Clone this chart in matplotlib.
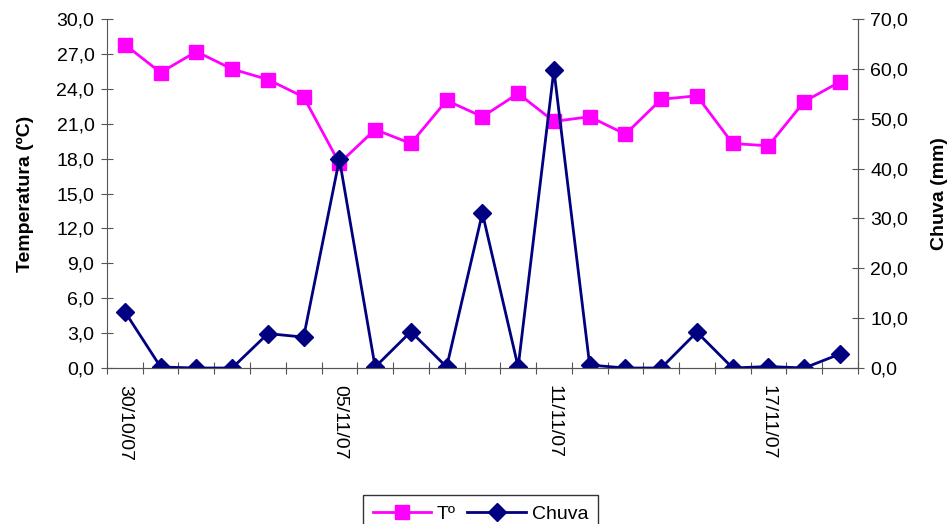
import matplotlib
matplotlib.use("Agg")
import matplotlib.pyplot as plt
from matplotlib.ticker import FuncFormatter

plt.rcParams['font.family'] = ['Liberation Sans', 'DejaVu Sans']

# daily series, 30/10/07 .. 19/11/07
dates = ["30/10/07", "31/10/07", "01/11/07", "02/11/07", "03/11/07", "04/11/07",
         "05/11/07", "06/11/07", "07/11/07", "08/11/07", "09/11/07", "10/11/07",
         "11/11/07", "12/11/07", "13/11/07", "14/11/07", "15/11/07", "16/11/07",
         "17/11/07", "18/11/07", "19/11/07"]
temp = [27.8, 25.4, 27.2, 25.7, 24.8, 23.3, 17.6, 20.5, 19.3, 23.0, 21.6,
        23.6, 21.2, 21.6, 20.1, 23.1, 23.4, 19.3, 19.1, 22.9, 24.6]
chuva = [11.3, 0.2, 0.0, 0.0, 6.9, 6.2, 41.9, 0.2, 7.3, 0.2, 31.1,
         0.2, 59.8, 0.6, 0.0, 0.0, 7.2, 0.0, 0.3, 0.0, 2.8]

x = list(range(len(dates)))
comma = FuncFormatter(lambda v, p: f"{v:.1f}".replace(".", ","))
FS = 14

fig = plt.figure(figsize=(9.51, 5.24), dpi=100)
ax = fig.add_axes([0.1125, 0.2977, 0.7895, 0.666])
ax2 = ax.twinx()

l1, = ax.plot(x, temp, color="#FF00FF", lw=2, marker="s", ms=10, label="Tº")
l2, = ax2.plot(x, chuva, color="#000080", lw=2, marker="D", ms=9, label="Chuva")

ax.set_xlim(-0.5, len(dates) - 0.5)
ax.set_ylim(0, 30)
ax.set_yticks(range(0, 31, 3))
ax.yaxis.set_major_formatter(comma)
ax2.set_ylim(0, 70)
ax2.set_yticks(range(0, 71, 10))
ax2.yaxis.set_major_formatter(comma)

# category boundaries as ticks, labels every 6 days
ax.set_xticks([i - 0.5 for i in x] + [len(dates) - 0.5])
ax.set_xticklabels([])
ax.set_xticks(x[::6], minor=True)
ax.set_xticklabels(dates[::6], minor=True, rotation=270, fontsize=FS)
ax.tick_params(axis="x", which="minor", length=0, pad=12)
ax.tick_params(axis="x", which="major", direction="inout", length=8, color="#555555")

for a in (ax, ax2):
    a.spines["top"].set_visible(False)
    for s in ("left", "right", "bottom"):
        a.spines[s].set_color("#555555")
    a.tick_params(axis="y", direction="inout", length=8, labelsize=FS, color="#555555", pad=5)
ax2.spines["left"].set_visible(False)

ax.set_ylabel("Temperatura (ºC)", fontsize=FS, fontweight="bold")
ax.yaxis.set_label_coords(-0.097, 0.5)
ax2.set_ylabel("Chuva (mm)", fontsize=FS, fontweight="bold")
ax2.yaxis.set_label_coords(1.097, 0.5)

fig.legend([l1, l2], ["Tº", "Chuva"], loc="upper center", bbox_to_anchor=(0.505, 0.073),
           ncol=2, fontsize=FS, frameon=True, fancybox=False, edgecolor="black",
           handlelength=3, columnspacing=0.6, handletextpad=0.3, borderpad=0.5)

fig.savefig("out.png", dpi=100)
